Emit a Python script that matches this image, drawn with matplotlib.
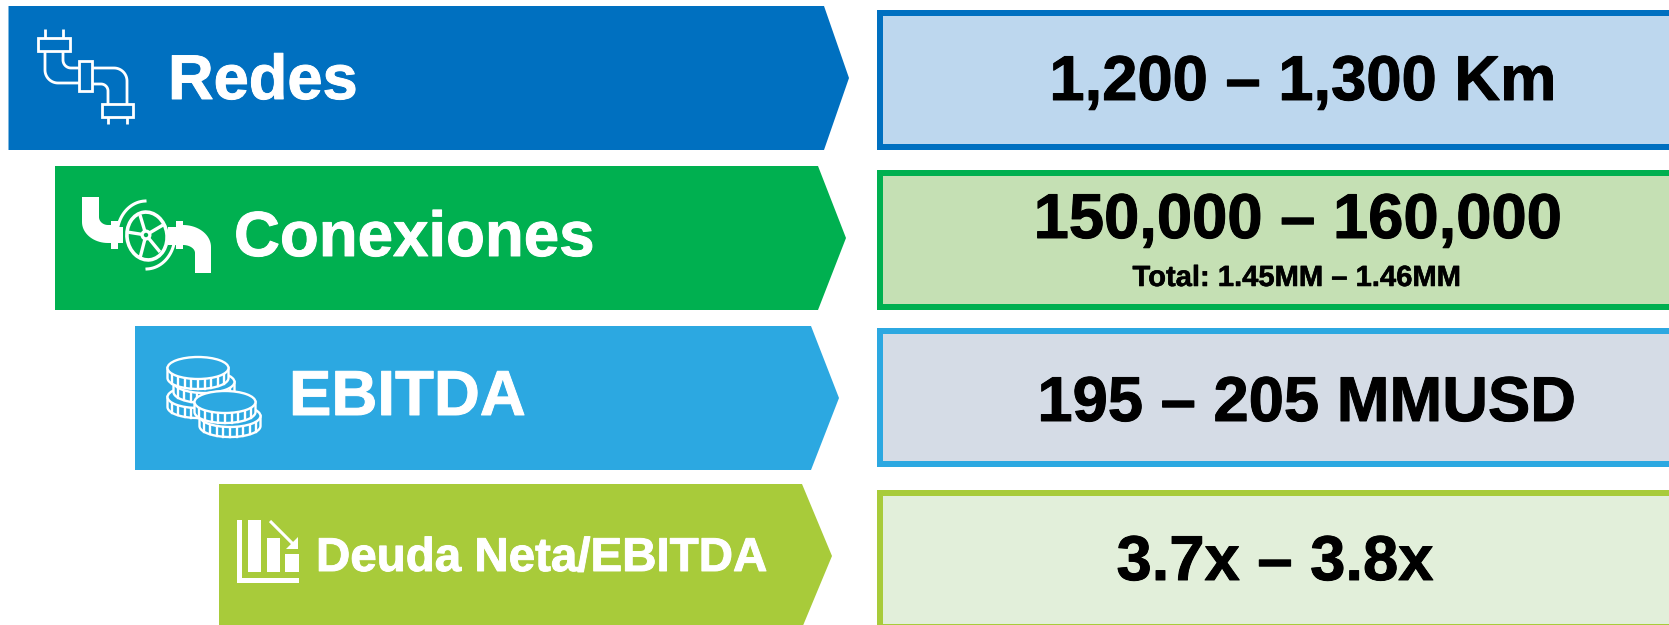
import numpy as np
import matplotlib
matplotlib.use('Agg')
from matplotlib import pyplot as plt
from matplotlib.patches import Polygon, Rectangle, Ellipse, Circle
import matplotlib.patheffects as pe

# guidance slide, values as text
labels = ['Redes', 'Conexiones', 'EBITDA', 'Deuda Neta/EBITDA']
values = ['1,200 \u2013 1,300 Km', '150,000 \u2013 160,000', '195 \u2013 205 MMUSD', '3.7x \u2013 3.8x']
subnote = 'Total: 1.45MM \u2013 1.46MM'

dark = ['#0070C0', '#00B050', '#2CA8E1', '#A8CB3A']
light = ['#BDD7EE', '#C5E0B4', '#D5DCE6', '#E2EFDA']

W, H = 1669, 625
plt.rcParams['font.family'] = ['Liberation Sans', 'DejaVu Sans']

fig = plt.figure(figsize=(W / 100, H / 100), dpi=100)
ax = fig.add_axes([0, 0, 1, 1])
ax.set_xlim(0, W)
ax.set_ylim(H, 0)  # y down, same as the screenshot
ax.axis('off')

# left, shoulder, tip, top, bottom (px)
arrows = [(8.5, 824, 849, 6, 150), (55, 818, 846, 166, 310),
          (135, 811, 839, 326, 470), (219, 802, 832, 484, 628)]
for (x0, xs, xt, y0, y1), c in zip(arrows, dark):
    pts = [(x0, y0), (xs, y0), (xt, (y0 + y1) / 2), (xs, y1), (x0, y1)]
    ax.add_patch(Polygon(pts, closed=True, fc=c, ec='none'))

# boxes: top, bottom of outer edge, runs off the right side
boxes = [(10, 149.5), (170, 310), (328, 467), (490, 630)]
bx = 877
bw = 6
for (y0, y1), c, f in zip(boxes, dark, light):
    ax.add_patch(Rectangle((bx, y0), W + 20 - bx, y1 - y0, fc=c, ec='none'))
    ax.add_patch(Rectangle((bx + bw, y0 + bw), W + 20 - bx, y1 - y0 - 2 * bw, fc=f, ec='none'))

# arrow text, a thin stroke because the original is heavier than Liberation bold
label_xy = [(168, 99, 45.5), (234, 256, 45.8), (289, 415, 45.8), (316, 571, 34.2)]
for s, (x, y, fs) in zip(labels, label_xy):
    t = ax.text(x, y, s, color='white', fontsize=fs, fontweight='bold', ha='left', va='baseline')
    t.set_path_effects([pe.withStroke(linewidth=0.7, foreground='white')])

# box text
val_xy = [(1303, 100), (1298, 238), (1307, 421), (1275, 580)]
for s, (x, y) in zip(values, val_xy):
    t = ax.text(x, y, s, color='black', fontsize=45.6, fontweight='bold', ha='center', va='baseline')
    t.set_path_effects([pe.withStroke(linewidth=0.7, foreground='black')])
t = ax.text(1297, 286, subnote, color='black', fontsize=21, fontweight='bold', ha='center', va='baseline')
t.set_path_effects([pe.withStroke(linewidth=0.4, foreground='black')])


def wline(xs, ys, lw=2.0, z=3):
    ax.plot(xs, ys, color='white', lw=lw, solid_capstyle='butt', solid_joinstyle='miter', zorder=z)


def corner(x0, y0, x1, y1, vertical_first=True, n=20):
    # quarter ellipse between two points
    t = np.linspace(0, np.pi / 2, n)
    if vertical_first:
        return x1 + (x0 - x1) * np.cos(t), y0 + (y1 - y0) * np.sin(t)
    return x0 + (x1 - x0) * np.sin(t), y1 + (y0 - y1) * np.cos(t)


# icon 1, pipe outline
for r in [(38, 38, 32, 13), (79, 61, 13, 30), (102, 104, 31, 13)]:
    ax.add_patch(Rectangle(r[:2], r[2], r[3], fc='none', ec='white', lw=2.0))
for x in (45, 63):
    wline([x, x], [29, 38])
for x in (108, 127):
    wline([x, x], [117, 124])
cx, cy = corner(45, 70, 58, 83)
wline(np.r_[45, cx, 79], np.r_[51, cy, 83])
cx, cy = corner(63, 60, 71, 68)
wline(np.r_[63, cx, 79], np.r_[51, cy, 68])
cx, cy = corner(114, 68, 127, 81, vertical_first=False)
wline(np.r_[92, cx, 127], np.r_[68, cy, 104])
cx, cy = corner(101, 84, 108, 91, vertical_first=False)
wline(np.r_[92, cx, 108], np.r_[84, cy, 104])

# icon 2, valve, filled
cx, cy = corner(82, 222, 108, 243)
cx2, cy2 = corner(99, 217, 108, 225)
ax.add_patch(Polygon(np.r_[[[82, 197], [99, 197]], np.c_[cx2, cy2], [[111, 225], [111, 243]], np.c_[cx, cy][::-1]],
                     fc='white', ec='none'))
cx, cy = corner(183, 225, 211, 247, vertical_first=False)
cx2, cy2 = corner(183, 245, 195, 253, vertical_first=False)
ax.add_patch(Polygon(np.r_[np.c_[cx, cy], [[211, 273], [195, 273]], np.c_[cx2, cy2][::-1]],
                     fc='white', ec='none'))
for r in [(111, 221, 7, 28), (118, 227, 5, 16), (168, 227, 8, 18), (176, 221, 7, 28)]:
    ax.add_patch(Rectangle(r[:2], r[2], r[3], fc='white', ec='none'))
ax.add_patch(Ellipse((147, 236), 40, 48, angle=-8, fc='none', ec='white', lw=2.6))
for dx, dy in [(-6, -20), (17, -10), (14, 17), (-6, 23), (-19, -3)]:
    wline([146, 146 + dx], [235, 235 + dy], lw=2.4)
ax.add_patch(Circle((146, 235), 5.5, fc='white', ec='none', zorder=4))
ax.add_patch(Circle((146, 235), 2.2, fc=dark[1], ec='none', zorder=5))
t = np.deg2rad(np.linspace(192, 268, 20))
ax.plot(146 + 29 * np.cos(t), 235 + 34 * np.sin(t), color='white', lw=2.2)
t = np.deg2rad(np.linspace(12, 88, 20))
ax.plot(146 + 29 * np.cos(t), 235 + 34 * np.sin(t), color='white', lw=2.2)


def coin(x, y, z, rx=30.5, ry=11, depth=10, c=dark[2]):
    t = np.linspace(0, np.pi, 40)
    body = np.r_[np.c_[x + rx * np.cos(t), y + depth + ry * np.sin(t)], [[x - rx, y], [x + rx, y]]]
    ax.add_patch(Polygon(body, fc=c, ec='white', lw=1.7, zorder=z))
    for k in np.linspace(-0.86, 0.86, 9):
        yy = y + ry * np.sqrt(1 - k * k)
        ax.plot([x + k * rx] * 2, [yy, yy + depth], color='white', lw=1.7, zorder=z + 0.1)
    ax.add_patch(Ellipse((x, y), 2 * rx, 2 * ry, fc=c, ec='white', lw=1.7, zorder=z + 0.2))


# icon 3, back to front
for i, (x, y) in enumerate([(198, 397), (204, 382), (198, 368), (230, 416), (225, 402)]):
    coin(x, y, 3 + i)

# icon 4, falling bars
ax.add_patch(Polygon([(237, 520), (242, 520), (242, 578), (299, 578), (299, 583), (237, 583)], fc='white', ec='none'))
for x0, x1, y0 in [(248, 261, 520), (267, 280, 538), (285, 299, 554)]:
    ax.add_patch(Rectangle((x0, y0), x1 - x0, 572 - y0, fc='white', ec='none'))
wline([270, 293], [521, 544], lw=2.2)
ax.add_patch(Polygon([(298, 537), (298, 549), (286, 549)], fc='white', ec='none'))

fig.savefig('out.png', dpi=100)
